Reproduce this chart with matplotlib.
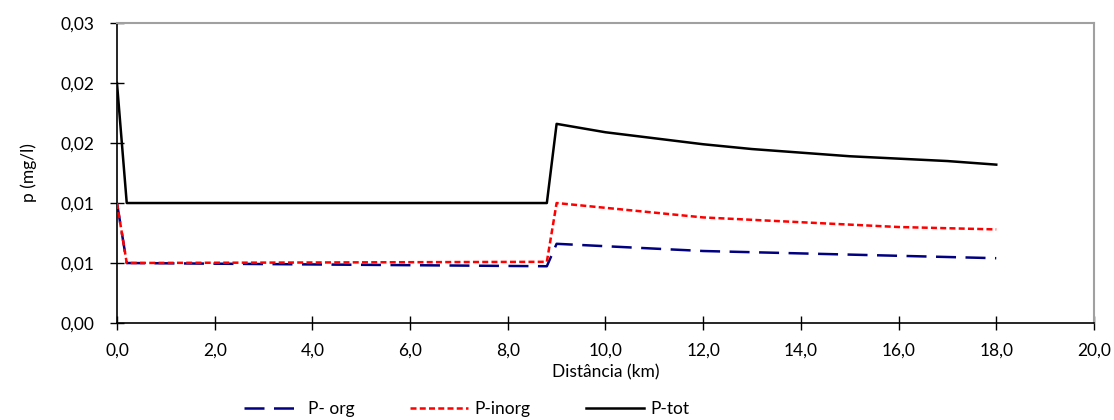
import matplotlib
matplotlib.use("Agg")
import matplotlib.pyplot as plt

plt.rcParams['font.family'] = ['Lato', 'DejaVu Sans']

# Distance along the river (km)
dist_km = [0.0, 0.2, 8.8, 9.0, 10.0, 11.0, 12.0, 13.0, 14.0, 15.0, 16.0, 17.0, 18.0]

# Phosphorus concentrations (mg/l)
p_org = [0.0100, 0.0050, 0.00473, 0.0066, 0.0064, 0.0062, 0.0060, 0.0059,
         0.0058, 0.0057, 0.0056, 0.0055, 0.0054]
p_inorg = [0.0100, 0.0050, 0.0051, 0.0100, 0.0096, 0.0092, 0.0088, 0.0086,
           0.0084, 0.0082, 0.0080, 0.0079, 0.0078]
p_tot = [0.0200, 0.0100, 0.0100, 0.0166, 0.0159, 0.0154, 0.0149, 0.0145,
         0.0142, 0.0139, 0.0137, 0.0135, 0.0132]

x_ticks = [0, 2, 4, 6, 8, 10, 12, 14, 16, 18, 20]
x_tick_labels = ["0,0", "2,0", "4,0", "6,0", "8,0", "10,0", "12,0", "14,0",
                 "16,0", "18,0", "20,0"]
y_ticks = [0.0, 0.005, 0.010, 0.015, 0.020, 0.025]
y_tick_labels = ["0,00", "0,01", "0,01", "0,02", "0,02", "0,03"]

fs = 12.5

fig = plt.figure(figsize=(11.14, 4.2), dpi=100)
ax = fig.add_axes([0.105, 0.231, 0.877, 0.714])

ax.plot(dist_km, p_org, color="#000080", lw=1.8, dashes=(8, 3.8),
        label="P- org", zorder=3)
ax.plot(dist_km, p_inorg, color="#ff0000", lw=1.8, dashes=(2.4, 1.3),
        label="P-inorg", zorder=4)
ax.plot(dist_km, p_tot, color="#000000", lw=1.8, label="P-tot", zorder=5)

ax.set_xlim(0, 20)
ax.set_ylim(0, 0.025)
ax.set_xticks(x_ticks)
ax.set_xticklabels(x_tick_labels)
ax.set_yticks(y_ticks)
ax.set_yticklabels(y_tick_labels)
ax.tick_params(axis="both", direction="inout", length=10, width=1,
               labelsize=fs, colors="#000000")
ax.tick_params(axis="x", pad=9)
ax.tick_params(axis="y", pad=11)

for side in ("left", "bottom"):
    ax.spines[side].set_color("#000000")
    ax.spines[side].set_linewidth(1.2)
for side in ("top", "right"):
    ax.spines[side].set_color("#a0a0a0")
    ax.spines[side].set_linewidth(1.5)

ax.set_xlabel("Distância (km)", fontsize=fs, labelpad=4)
ax.set_ylabel("p (mg/l)", fontsize=fs, labelpad=17)

fig.legend(loc="center", bbox_to_anchor=(0.419, 0.026), ncol=3, frameon=False,
           fontsize=fs, handlelength=3.3, columnspacing=3.2,
           handletextpad=0.4)

fig.savefig("out.png", dpi=100)
